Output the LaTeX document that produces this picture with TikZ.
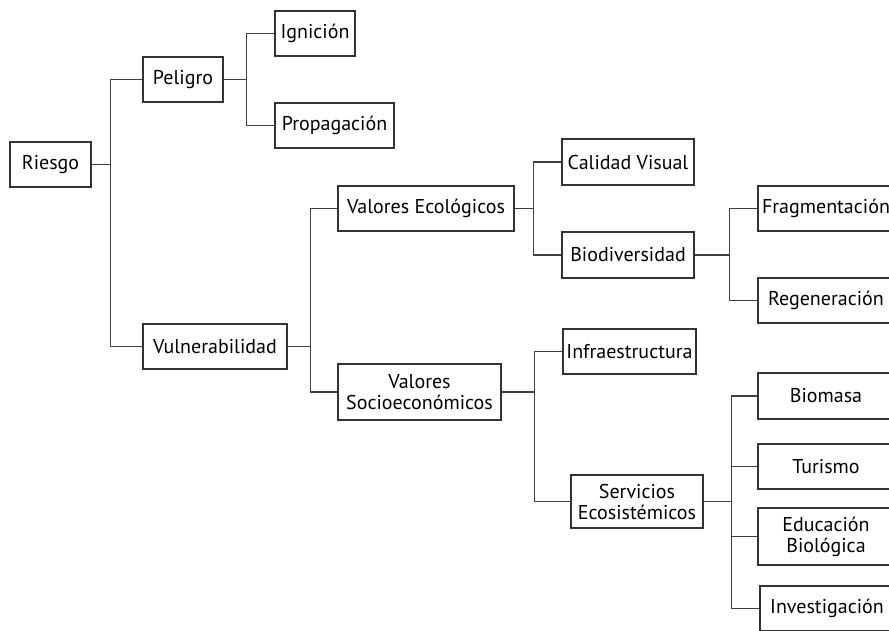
\documentclass[tikz,border=0pt]{standalone}
\usepackage{fontspec}
\setmainfont{PT Sans}
\begin{document}
\begin{tikzpicture}[x=1pt,y=-1pt]
\tikzset{box/.style={draw=black!80, line width=1.1pt, minimum height=45, inner sep=2pt,
  align=center, font=\fontsize{20}{21}\selectfont},
  link/.style={draw=black!75, line width=1.1pt}}
\useasboundingbox (0,0) rectangle (889,630);
\clip (0,0) rectangle (889,630);
% level 0 and 1
\node[box, minimum width=81] (riesgo) at (50.5,164.5) {Riesgo};
\node[box, minimum width=80] (peligro) at (183,79.5) {Peligro};
\node[box, minimum width=144] (vulner) at (215,346.5) {Vulnerabilidad};
% peligro
\node[box, minimum width=80] (ignicion) at (315,33.5) {Ignición};
\node[box, minimum width=119] (propag) at (334.5,125.5) {Propagación};
% vulnerabilidad
\node[box, minimum width=176] (ecolog) at (426,208.5) {Valores Ecológicos};
\node[box, minimum width=163, minimum height=56] (socio) at (419.5,392) {Valores\\Socioeconómicos};
\node[box, minimum width=132, minimum height=46] (calidad) at (628,162) {Calidad Visual};
\node[box, minimum width=132, minimum height=46] (biodiv) at (628,255) {Biodiversidad};
\node[box, minimum width=133] (infra) at (629.5,351.5) {Infraestructura};
\node[box, minimum width=132, minimum height=53] (servic) at (637,501.5) {Servicios\\Ecosistémicos};
% right column
\node[box, minimum width=136] (fragm) at (826,208.5) {Fragmentación};
\node[box, minimum width=136] (regen) at (826,300.5) {Regeneración};
\node[box, minimum width=136, minimum height=46] (biomasa) at (826,396) {Biomasa};
\node[box, minimum width=136] (turismo) at (826,466.5) {Turismo};
\node[box, minimum width=136, minimum height=57] (educ) at (826,536.5) {Educación\\Biológica};
\node[box, minimum width=134] (investig) at (827,608.5) {Investigación};
% connectors
\draw[link] (riesgo.east) -- ++(19,0) |- (peligro.west);
\draw[link] (riesgo.east) -- ++(19,0) |- (vulner.west);
\draw[link] (peligro.east) -- ++(23,0) |- (ignicion.west);
\draw[link] (peligro.east) -- ++(23,0) |- (propag.west);
\draw[link] (vulner.east) -- ++(23,0) |- (ecolog.west);
\draw[link] (vulner.east) -- ++(23,0) |- (socio.west);
\draw[link] (ecolog.east) -- ++(19,0) |- (calidad.west);
\draw[link] (ecolog.east) -- ++(19,0) |- (biodiv.west);
\draw[link] (biodiv.east) -- ++(35,0) |- (fragm.west);
\draw[link] (biodiv.east) -- ++(35,0) |- (regen.west);
\draw[link] (socio.east) -- ++(33,0) |- (infra.west);
\draw[link] (socio.east) -- ++(33,0) |- (servic.west);
\foreach \leaf in {biomasa,turismo,educ,investig}
  \draw[link] (servic.east) -- ++(28,0) |- (\leaf.west);
\end{tikzpicture}
\end{document}
